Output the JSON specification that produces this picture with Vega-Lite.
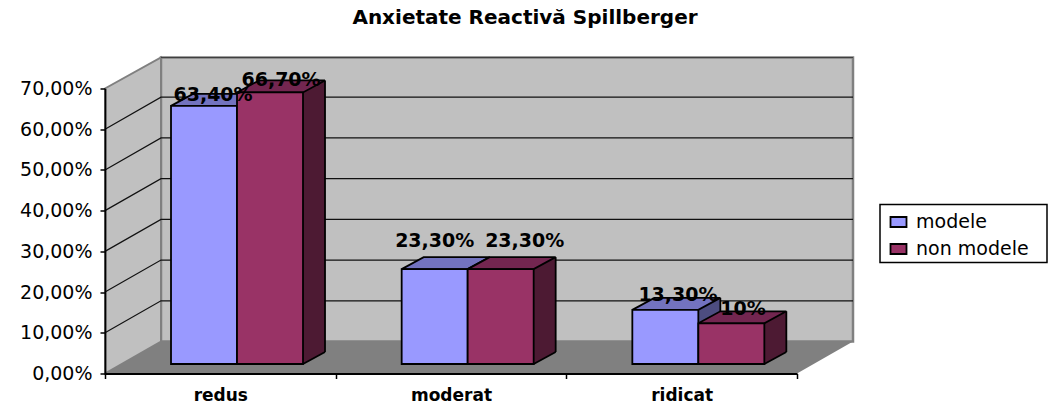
{
"$schema":"https://vega.github.io/schema/vega-lite/v6.json",
"autosize":{"type":"none"},
"padding":{"left":105,"top":88.5,"right":252,"bottom":32.5},
"width":692,"height":285,
"background":"white",
"title":{"text":"Anxietate Reactivă Spillberger","font":"DejaVu Sans","fontSize":20,"fontWeight":"bold","color":"black","anchor":"middle","frame":"group","dx":74,"offset":25},
"config":{"view":{"stroke":null}},
"datasets":{
"bars":[
{"cat":"redus","series":"modele","value":63.4,"label":"63,40%"},
{"cat":"redus","series":"non modele","value":66.7,"label":"66,70%"},
{"cat":"moderat","series":"modele","value":23.3,"label":"23,30%"},
{"cat":"moderat","series":"non modele","value":23.3,"label":"23,30%"},
{"cat":"ridicat","series":"modele","value":13.3,"label":"13,30%"},
{"cat":"ridicat","series":"non modele","value":10,"label":"10%"}
],
"wall":[{"cat":"redus","v":0}],
"grid":[{"cat":"redus","v":10},{"cat":"redus","v":20},{"cat":"redus","v":30},{"cat":"redus","v":40},{"cat":"redus","v":50},{"cat":"redus","v":60}]
},
"encoding":{
"x":{"field":"cat","type":"nominal","sort":["redus","moderat","ridicat"],"scale":{"domain":["redus","moderat","ridicat"],"paddingInner":0,"paddingOuter":0},"title":null,
"axis":{"zindex":1,"tickBand":"extent","labelAngle":0,"labelFont":"DejaVu Sans","labelFontSize":17,"labelFontWeight":"bold","labelColor":"black","domainColor":"black","domainWidth":1.8,"tickColor":"black","tickWidth":1.5,"tickSize":5,"labelPadding":9}},
"y":{"field":"value","type":"quantitative","scale":{"domain":[0,70],"nice":false},"title":null,
"axis":{"zindex":1,"values":[0,10,20,30,40,50,60,70],"grid":false,"labelExpr":"replace(format(datum.value,'.2f'),'.',',')+'%'","labelFont":"DejaVu Sans","labelFontSize":19,"labelColor":"black","domainColor":"black","domainWidth":1.8,"tickColor":"black","tickWidth":1.5,"tickSize":5,"labelPadding":8}}
},
"layer":[
{"data":{"name":"wall"},
 "encoding":{"x":{"field":"cat","type":"nominal","bandPosition":0},"y":{"field":"v","type":"quantitative"}},
 "layer":[
  {"mark":{"type":"point","shape":"M0,0L56,-32H748L692,0Z","size":4,"filled":true,"fill":"#808080","stroke":null,"opacity":1}},
  {"mark":{"type":"point","shape":"M56,-32V-316H748V-32Z","size":4,"filled":true,"fill":"#C0C0C0","stroke":"#808080","strokeWidth":2.5,"opacity":1}},
  {"mark":{"type":"point","shape":"M0,0V-285L56,-316V-32Z","size":4,"filled":true,"fill":"#C0C0C0","stroke":"#808080","strokeWidth":2,"opacity":1}},
  {"mark":{"type":"point","shape":"M56,-316H748","size":4,"filled":false,"fill":null,"stroke":"#404040","strokeWidth":1.2,"opacity":1}},
  {"mark":{"type":"point","shape":"M775,-169H942V-111H775Z","size":4,"filled":false,"fill":null,"stroke":"black","strokeWidth":1.5,"opacity":1}}
 ]},
{"data":{"name":"grid"},
 "encoding":{"x":{"field":"cat","type":"nominal","bandPosition":0},"y":{"field":"v","type":"quantitative"}},
 "mark":{"type":"point","shape":"M0,0L56,-32H748","size":4,"filled":false,"fill":null,"stroke":"#111","strokeWidth":1.2,"opacity":1}},
{"data":{"name":"bars"},"transform":[{"filter":"datum.series=='modele'"}],
 "layer":[
  {"mark":{"type":"bar","width":66,"fill":"#4D4D80","xOffset":5.67,"yOffset":-21.5,"y2Offset":-21.5},"encoding":{"y2":{"datum":0}}},
  {"mark":{"type":"point","shape":"M33,0L55,-12L33,-12Z","size":4,"filled":true,"fill":"#4D4D80","stroke":null,"opacity":1,"xOffset":-16.33,"yOffset":-9.5},"encoding":{"y":{"datum":0,"type":"quantitative"}}},
  {"mark":{"type":"point","shape":"M33,0L55,-12","size":4,"filled":false,"fill":null,"stroke":"black","strokeWidth":1.8,"opacity":1,"xOffset":-16.33,"yOffset":-9.5},"encoding":{"y":{"datum":0,"type":"quantitative"}}},
  {"mark":{"type":"bar","fill":"black","width":1.8,"xOffset":38.67,"yOffset":-21.5,"y2Offset":-21.5},"encoding":{"y2":{"datum":0}}},
  {"mark":{"type":"point","shape":"M-33,0L33,0L55,-12L-11,-12Z","size":4,"filled":true,"fill":"#7373BF","stroke":"black","strokeWidth":1.8,"opacity":1,"xOffset":-16.33,"yOffset":-9.5}},
  {"mark":{"type":"bar","width":66,"stroke":"black","strokeWidth":1.8,"xOffset":-16.33,"yOffset":-9.5,"y2Offset":-9.5},"encoding":{"y2":{"datum":0},"fill":{"field":"series","type":"nominal","scale":{"domain":["modele","non modele"],"range":["#9999FF","#993366"]},"title":null,
   "legend":{"orient":"none","legendX":775,"legendY":115,"padding":9,"symbolType":"M-8,-5H8V5H-8Z","symbolSize":4,"symbolStrokeColor":"black","symbolStrokeWidth":1.8,"symbolOpacity":1,"labelFont":"DejaVu Sans","labelFontSize":19,"labelColor":"black","labelOffset":8,"rowPadding":7,"symbolOffset":0}}}}
 ]},
{"data":{"name":"bars"},"transform":[{"filter":"datum.series=='non modele'"}],
 "layer":[
  {"mark":{"type":"bar","width":66,"fill":"#4D1A33","xOffset":71.67,"yOffset":-21.5,"y2Offset":-21.5},"encoding":{"y2":{"datum":0}}},
  {"mark":{"type":"point","shape":"M33,0L55,-12L33,-12Z","size":4,"filled":true,"fill":"#4D1A33","stroke":null,"opacity":1,"xOffset":49.67,"yOffset":-9.5},"encoding":{"y":{"datum":0,"type":"quantitative"}}},
  {"mark":{"type":"point","shape":"M33,0L55,-12","size":4,"filled":false,"fill":null,"stroke":"black","strokeWidth":1.8,"opacity":1,"xOffset":49.67,"yOffset":-9.5},"encoding":{"y":{"datum":0,"type":"quantitative"}}},
  {"mark":{"type":"bar","fill":"black","width":1.8,"xOffset":104.67,"yOffset":-21.5,"y2Offset":-21.5},"encoding":{"y2":{"datum":0}}},
  {"mark":{"type":"point","shape":"M-33,0L33,0L55,-12L-11,-12Z","size":4,"filled":true,"fill":"#732650","stroke":"black","strokeWidth":1.8,"opacity":1,"xOffset":49.67,"yOffset":-9.5}},
  {"mark":{"type":"bar","width":66,"stroke":"black","strokeWidth":1.8,"xOffset":49.67,"yOffset":-9.5,"y2Offset":-9.5},"encoding":{"y2":{"datum":0},"fill":{"field":"series","type":"nominal","scale":{"domain":["modele","non modele"],"range":["#9999FF","#993366"]},"title":null}}}
 ]},
{"data":{"name":"bars"},
 "encoding":{"text":{"field":"label","type":"nominal"}},
 "layer":[
  {"transform":[{"filter":"datum.cat=='redus' && datum.series=='modele'"}],"mark":{"type":"text","font":"DejaVu Sans","fontSize":19,"fontWeight":"bold","color":"black","baseline":"alphabetic","align":"center","xOffset":-7.3,"yOffset":-14}},
  {"transform":[{"filter":"datum.cat=='redus' && datum.series=='non modele'"}],"mark":{"type":"text","font":"DejaVu Sans","fontSize":19,"fontWeight":"bold","color":"black","baseline":"alphabetic","align":"center","xOffset":60.7,"yOffset":-16}},
  {"transform":[{"filter":"datum.cat=='moderat' && datum.series=='modele'"}],"mark":{"type":"text","font":"DejaVu Sans","fontSize":19,"fontWeight":"bold","color":"black","baseline":"alphabetic","align":"center","xOffset":-16.3,"yOffset":-32}},
  {"transform":[{"filter":"datum.cat=='moderat' && datum.series=='non modele'"}],"mark":{"type":"text","font":"DejaVu Sans","fontSize":19,"fontWeight":"bold","color":"black","baseline":"alphabetic","align":"center","xOffset":73.7,"yOffset":-32}},
  {"transform":[{"filter":"datum.cat=='ridicat' && datum.series=='modele'"}],"mark":{"type":"text","font":"DejaVu Sans","fontSize":19,"fontWeight":"bold","color":"black","baseline":"alphabetic","align":"center","xOffset":-3.7,"yOffset":-18}},
  {"transform":[{"filter":"datum.cat=='ridicat' && datum.series=='non modele'"}],"mark":{"type":"text","font":"DejaVu Sans","fontSize":19,"fontWeight":"bold","color":"black","baseline":"alphabetic","align":"center","xOffset":61.3,"yOffset":-18}}
 ]}
]
}
